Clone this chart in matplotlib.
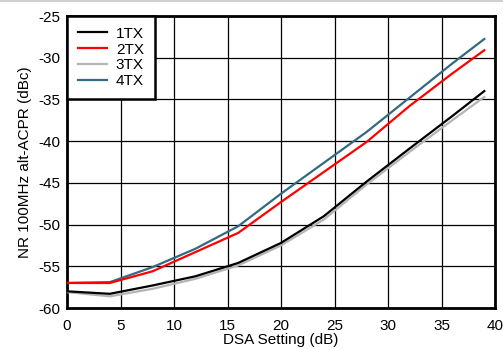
import matplotlib
matplotlib.use("Agg")
import matplotlib.pyplot as plt
from matplotlib.lines import Line2D

plt.rcParams['font.family'] = ['Liberation Sans', 'DejaVu Sans']
plt.rcParams['axes.unicode_minus'] = False

dsa = [0, 4, 8, 12, 16, 20, 24, 28, 32, 36, 39]
tx1 = [-58.0, -58.3, -57.3, -56.2, -54.6, -52.2, -49.0, -44.85, -40.9, -37.0, -34.0]
tx2 = [-57.0, -57.0, -55.6, -53.3, -51.0, -47.3, -43.7, -40.1, -35.8, -31.9, -29.1]
tx3 = [-58.1, -58.6, -57.7, -56.5, -54.9, -52.5, -49.4, -45.2, -41.3, -37.5, -34.7]
tx4 = [-57.0, -56.9, -55.1, -52.9, -50.2, -46.3, -42.6, -38.9, -34.8, -30.7, -27.76]
series_labels = ["1TX", "2TX", "3TX", "4TX"]
colors = ["#000000", "#ff0000", "#b4b4b4", "#336a80"]
xticks = [0, 5, 10, 15, 20, 25, 30, 35, 40]
yticks = [-60, -55, -50, -45, -40, -35, -30, -25]

fig = plt.figure(figsize=(5.03, 3.5), dpi=100)
ax = fig.add_axes([67/503, 42/350, (495-67)/503, (308-16)/350])

order = [2, 0, 3, 1]
data = [tx1, tx2, tx3, tx4]
handles = {}
for i in order:
    h, = ax.plot(dsa, data[i], color=colors[i], lw=1.6, label=series_labels[i], zorder=3)
    handles[i] = h

ax.set_xlim(0, 40)
ax.set_ylim(-60, -25)
ax.set_xticks(xticks)
ax.set_yticks(yticks)
ax.grid(True, color='black', lw=0.9)
ax.set_axisbelow(True)
ax.tick_params(length=0, labelsize=11, colors='black')
ax.tick_params(axis='x', pad=8)
ax.tick_params(axis='y', pad=5)
for s in ax.spines.values():
    s.set_linewidth(2)
    s.set_color('black')

ax.set_xlabel("DSA Setting (dB)", fontsize=11, labelpad=0)
ax.set_ylabel("NR 100MHz alt-ACPR (dBc)", fontsize=11, labelpad=4)

leg = ax.legend([handles[i] for i in range(4)], series_labels, loc='upper left',
                borderaxespad=0, fancybox=False, framealpha=1, edgecolor='black',
                fontsize=11, handlelength=1.95, handletextpad=0.55,
                labelspacing=0.12, borderpad=0.7)
leg.get_frame().set_linewidth(1.8)

fig.add_artist(Line2D([0, 1], [0.997, 0.997], color='#d0d0d0', lw=1.5, transform=fig.transFigure))

fig.savefig("out.png", dpi=100)
